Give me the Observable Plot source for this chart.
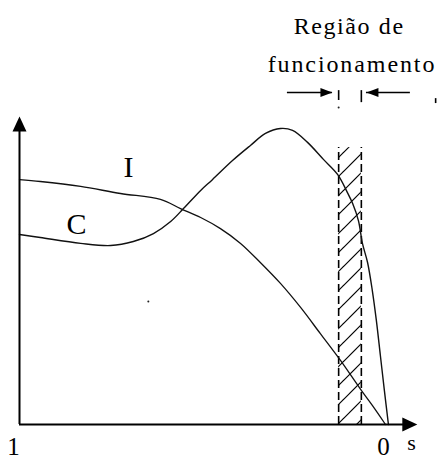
<!DOCTYPE html>
<html><head><meta charset="utf-8">
<script src="https://cdn.jsdelivr.net/npm/d3@7"></script>
<script src="https://cdn.jsdelivr.net/npm/@observablehq/plot@0.6"></script>
<style>
body{margin:0;background:#fff;}
#chart svg{display:block;background:#fff;}
</style></head><body><div id="chart"></div>
<script>
// Slip (1 at start, 0 at synchronism) and normalized values
const currentSlip  = [1.000,0.943,0.833,0.724,0.615,0.560,0.505,0.451,0.396,0.342,0.287,0.232,0.178,0.123,0.068,0.036,0.000];
const currentValue = [0.795,0.789,0.773,0.750,0.731,0.701,0.672,0.636,0.588,0.526,0.458,0.380,0.295,0.208,0.114,0.062,0.000];

const torqueSlip  = [1.000,0.943,0.833,0.751,0.689,0.634,0.587,0.552,0.505,0.473,0.418,0.369,0.328,0.287,0.254,0.213,0.169,0.131,0.104,0.090,0.074,0.063,0.049,0.036,0.025,0.014,0.003,-0.008];
const torqueValue = [0.617,0.607,0.588,0.581,0.594,0.620,0.659,0.701,0.760,0.795,0.857,0.906,0.945,0.961,0.955,0.916,0.860,0.812,0.753,0.718,0.662,0.588,0.526,0.435,0.338,0.224,0.110,0.000];

// Operating region (slip bounds) and its top
const regionSlip = [0.128, 0.066];
const regionTop = 0.899;

// Axes extents
const axisSlipStart = 1, axisSlipEnd = -0.087, axisTop = 1.0;

// Tick labels
const tickValues = [1, 0];
const tickLabels = ["1", "0"];

// Annotation arrows above the region
const arrowY = 1.078;
const arrowsTop = [{from: 0.268, to: 0.145, dir: "right"}, {from: -0.068, to: 0.052, dir: "left"}];
const smallTicks = [{s: 0.128, y1: 1.052, y2: 1.084}, {s: 0.066, y1: 1.045, y2: 1.084}, {s: -0.137, y1: 1.042, y2: 1.058}];
const strayDots = [{s: 0.128, y: 1.029}, {s: 0.648, y: 0.399}];

// Text labels
const titleLines = [{text: "Região de", s: 0.251, y: 1.269}, {text: "funcionamento", s: 0.322, y: 1.143}];
const curveLabels = [{text: "I", s: 0.702, y: 0.802}, {text: "C", s: 0.844, y: 0.620}];
const axisName = {text: "s", s: -0.071, y: -0.084};

const current = currentSlip.map((s, i) => ({s, v: currentValue[i]}));
const torque = torqueSlip.map((s, i) => ({s, v: torqueValue[i]}));
const ticks = tickValues.map((s, i) => ({s, label: tickLabels[i]}));

function head(dir, len, half) {
  return {draw(ctx) {
    if (dir === "up") { ctx.moveTo(0, 0); ctx.lineTo(half, len); ctx.lineTo(-half, len); }
    else if (dir === "right") { ctx.moveTo(0, 0); ctx.lineTo(-len, -half); ctx.lineTo(-len, half); }
    else { ctx.moveTo(0, 0); ctx.lineTo(len, -half); ctx.lineTo(len, half); }
    ctx.closePath();
  }};
}

const serif = "'Liberation Serif', 'Times New Roman', serif";

const plot = Plot.plot({
  width: 437, height: 460,
  marginLeft: 19, marginRight: 52, marginTop: 116, marginBottom: 36,
  x: {domain: [1, 0], axis: null},
  y: {domain: [0, 1], axis: null},
  style: {fontFamily: serif, background: "#fff"},
  marks: [
    Plot.rect([{s1: regionSlip[0], s2: regionSlip[1], y1: 0, y2: regionTop}], {x1: "s1", x2: "s2", y1: "y1", y2: "y2", fill: "url(#hatch)"}),
    Plot.ruleX(regionSlip, {x: d => d, y1: 0, y2: regionTop, stroke: "#000", strokeWidth: 1.6, strokeDasharray: "8,4"}),
    Plot.line(current, {x: "s", y: "v", curve: "catmull-rom", stroke: "#111", strokeWidth: 1.3}),
    Plot.line(torque, {x: "s", y: "v", curve: "catmull-rom", stroke: "#111", strokeWidth: 1.4}),
    // axes
    Plot.ruleX([axisSlipStart], {x: d => d, y1: 0, y2: axisTop * 0.96, stroke: "#000", strokeWidth: 2}),
    Plot.ruleY([0], {y: d => d, x1: axisSlipStart, x2: axisSlipEnd + 0.03, stroke: "#000", strokeWidth: 2}),
    Plot.dot([axisSlipStart], {x: d => d, y: axisTop, symbol: head("up", 15, 7), fill: "#000", stroke: "none"}),
    Plot.dot([axisSlipEnd], {x: d => d, y: 0, symbol: head("right", 15, 7), fill: "#000", stroke: "none"}),
    // annotation arrows
    Plot.ruleY(arrowsTop, {y: () => arrowY, x1: "from", x2: "to", stroke: "#000", strokeWidth: 1.6}),
    Plot.dot(arrowsTop.filter(d => d.dir === "right"), {x: "to", y: () => arrowY, symbol: head("right", 12, 4.5), fill: "#000", stroke: "none"}),
    Plot.dot(arrowsTop.filter(d => d.dir === "left"), {x: "to", y: () => arrowY, symbol: head("left", 12, 4.5), fill: "#000", stroke: "none"}),
    Plot.ruleX(smallTicks, {x: "s", y1: "y1", y2: "y2", stroke: "#000", strokeWidth: 1.6}),
    Plot.dot(strayDots, {x: "s", y: "y", r: 1, fill: "#222", stroke: "none"}),
    // texts
    Plot.text(titleLines, {x: "s", y: "y", text: "text", textAnchor: "start", lineAnchor: "bottom", fontSize: 24, fill: "#000"}),
    Plot.text(curveLabels, {x: "s", y: "y", text: "text", textAnchor: "middle", lineAnchor: "bottom", fontSize: 30, fill: "#000"}),
    Plot.text(ticks.filter(d => d.s === 1), {x: "s", y: () => -0.098, text: "label", dx: -6, textAnchor: "middle", lineAnchor: "bottom", fontSize: 25, fill: "#000"}),
    Plot.text(ticks.filter(d => d.s === 0), {x: "s", y: () => -0.098, text: "label", dx: -2, textAnchor: "middle", lineAnchor: "bottom", fontSize: 25, fill: "#000"}),
    Plot.text([axisName], {x: "s", y: "y", text: "text", textAnchor: "middle", lineAnchor: "bottom", fontSize: 22, fill: "#000"})
  ]
});

const svg = d3.select(plot);
const pat = svg.insert("defs", ":first-child").append("pattern")
  .attr("id", "hatch").attr("patternUnits", "userSpaceOnUse")
  .attr("width", 19).attr("height", 19).attr("x", 2).attr("y", 0);
[[0, 19, 19, 0], [-2, 2, 2, -2], [17, 21, 21, 17]].forEach(([x1, y1, x2, y2]) =>
  pat.append("line").attr("x1", x1).attr("y1", y1).attr("x2", x2).attr("y2", y2)
    .attr("stroke", "#000").attr("stroke-width", 1.2));
svg.selectAll("text").filter(function() { return this.textContent === "Região de"; }).attr("letter-spacing", "1.6px");
svg.selectAll("text").filter(function() { return this.textContent === "funcionamento"; }).attr("letter-spacing", "1.9px");

document.getElementById("chart").appendChild(plot);
</script></body></html>
